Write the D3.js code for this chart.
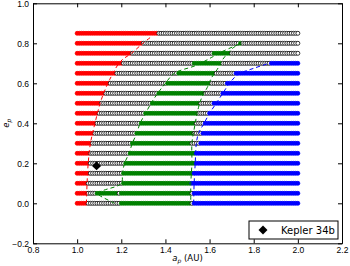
<!DOCTYPE html>
<html>
<head>
<meta charset="utf-8">
<script src="https://cdn.jsdelivr.net/npm/d3@7"></script>
<style>
  body { margin: 0; background: #fff; }
  svg { display: block; font-family: "DejaVu Sans", sans-serif; }
  .axis path { stroke: #000; }
  .axis line { stroke: #000; }
  .axis text { fill: #000; font-size: 8.5px; }
</style>
</head>
<body>
<svg id="chart" width="350" height="266"></svg>
<script>
// eccentricity of each row of the grid
var rowE = [0.00, 0.05, 0.10, 0.15, 0.20, 0.25, 0.30, 0.35, 0.40,
            0.45, 0.50, 0.55, 0.60, 0.65, 0.70, 0.75, 0.80, 0.85];

// outcome along each row: [class, first a, last a]  (r = ejected, w = unstable, g = stable, b = outer)
var rowSegs = [
  [["r",1.00,1.04],["w",1.05,1.19],["g",1.20,1.51],["w",1.52,1.52],["b",1.53,2.00]],
  [["r",1.00,1.04],["w",1.05,1.08],["g",1.09,1.18],["w",1.19,1.19],["g",1.20,1.51],["w",1.52,1.52],["b",1.53,2.00]],
  [["r",1.00,1.04],["w",1.05,1.20],["g",1.21,1.51],["b",1.52,2.00]],
  [["r",1.00,1.05],["w",1.06,1.20],["g",1.21,1.52],["b",1.53,2.00]],
  [["r",1.00,1.05],["w",1.06,1.21],["g",1.22,1.53],["b",1.54,2.00]],
  [["r",1.00,1.05],["w",1.06,1.23],["g",1.24,1.53],["b",1.54,2.00]],
  [["r",1.00,1.06],["w",1.07,1.24],["g",1.25,1.51],["w",1.52,1.55],["b",1.56,2.00]],
  [["r",1.00,1.07],["w",1.08,1.26],["g",1.27,1.52],["w",1.53,1.56],["b",1.57,2.00]],
  [["r",1.00,1.08],["w",1.09,1.28],["g",1.29,1.53],["w",1.54,1.57],["b",1.58,2.00]],
  [["r",1.00,1.09],["w",1.10,1.30],["g",1.31,1.54],["w",1.55,1.59],["b",1.60,2.00]],
  [["r",1.00,1.10],["w",1.11,1.33],["g",1.34,1.55],["w",1.56,1.61],["b",1.62,2.00]],
  [["r",1.00,1.12],["w",1.13,1.36],["g",1.37,1.57],["w",1.58,1.65],["b",1.66,2.00]],
  [["r",1.00,1.14],["w",1.15,1.40],["g",1.41,1.60],["w",1.61,1.67],["b",1.68,2.00]],
  [["r",1.00,1.17],["w",1.18,1.45],["g",1.46,1.62],["w",1.63,1.71],["b",1.72,2.00]],
  [["r",1.00,1.20],["w",1.21,1.52],["g",1.53,1.65],["w",1.66,1.87],["b",1.88,2.00]],
  [["r",1.00,1.24],["w",1.25,1.61],["g",1.62,1.69],["w",1.70,2.00]],
  [["r",1.00,1.29],["w",1.30,1.73],["g",1.74,1.74],["w",1.75,2.00]],
  [["r",1.00,1.36],["w",1.37,2.00]]
];
var aStep = 0.01;

// dashed boundary curves, [a, e]
var redCurve = [[1.042,0.0],[1.045,0.1],[1.05,0.2],[1.06,0.3],[1.07,0.35],[1.085,0.42],
                [1.11,0.52],[1.148,0.62],[1.197,0.71],[1.246,0.75],[1.298,0.80],[1.336,0.833]];
var greenCurve = [[1.17,0.0],[1.10,0.04],[1.09,0.05],[1.12,0.065],[1.20,0.1],[1.205,0.15],
                  [1.215,0.2],[1.235,0.25],[1.25,0.3],[1.27,0.35],[1.285,0.4],[1.31,0.45],
                  [1.335,0.5],[1.365,0.55],[1.40,0.6],[1.44,0.65],[1.54,0.69],[1.61,0.73],
                  [1.66,0.76],[1.745,0.80],[1.71,0.78],[1.66,0.72],[1.635,0.67],[1.61,0.63],
                  [1.59,0.58],[1.565,0.53],[1.55,0.48],[1.54,0.43],[1.53,0.37],[1.52,0.3],
                  [1.52,0.2],[1.515,0.1],[1.515,0.0]];
var blueCurve = [[1.528,0.0],[1.53,0.1],[1.535,0.2],[1.54,0.3],[1.55,0.35],[1.575,0.4],
                 [1.60,0.45],[1.63,0.5],[1.66,0.55],[1.69,0.6],[1.73,0.645],[1.80,0.675],[1.87,0.70]];

var kepler = {a: 1.088, e: 0.187, label: "Kepler 34b"};

var xTicks = [0.8, 1.0, 1.2, 1.4, 1.6, 1.8, 2.0, 2.2];
var yTicks = [-0.2, 0.0, 0.2, 0.4, 0.6, 0.8, 1.0];

var colors = {r: "#ff0000", w: "#ffffff", g: "#008000", b: "#0000ff"};

var x = d3.scaleLinear().domain([0.8, 2.2]).range([33, 342]),
    y = d3.scaleLinear().domain([-0.2, 1.0]).range([243.3, 3.3]);

var svg = d3.select("#chart");

// flatten segments into grid points
var pts = [];
rowSegs.forEach(function(segs, i) {
  segs.forEach(function(s) {
    var n = Math.round((s[2] - s[1]) / aStep);
    for (var k = 0; k <= n; k++) pts.push({a: s[1] + k * aStep, e: rowE[i], c: s[0]});
  });
});

svg.selectAll(".pt")
    .data(pts)
  .enter().append("circle")
    .attr("class", "pt")
    .attr("cx", function(d) { return x(d.a); })
    .attr("cy", function(d) { return y(d.e); })
    .attr("r", 2)
    .style("fill", function(d) { return colors[d.c]; })
    .style("stroke", function(d) { return d.c == "w" ? "#000" : colors[d.c]; })
    .style("stroke-width", 0.8);

var line = d3.line()
    .x(function(d) { return x(d[0]); })
    .y(function(d) { return y(d[1]); })
    .curve(d3.curveCatmullRom);

[[redCurve, colors.r], [greenCurve, colors.g], [blueCurve, colors.b]].forEach(function(c) {
  svg.append("path")
      .datum(c[0])
      .attr("d", line)
      .style("fill", "none")
      .style("stroke", c[1])
      .style("stroke-width", 1)
      .style("stroke-dasharray", "4,3");
});

// Kepler 34b
svg.append("path")
    .attr("d", d3.symbol().type(d3.symbolSquare).size(40))
    .attr("transform", "translate(" + x(kepler.a) + "," + y(kepler.e) + ") rotate(45)")
    .style("fill", "#000");

// axes, ticks inward on all four sides
var fmt = function(d) { return d3.format(".1f")(d).replace("-", "\u2212"); };
svg.append("g").attr("class", "axis")
    .attr("transform", "translate(0,243.3)")
    .call(d3.axisBottom(x).tickValues(xTicks).tickFormat(fmt).tickSizeInner(-4).tickSizeOuter(0).tickPadding(4));
svg.append("g").attr("class", "axis")
    .attr("transform", "translate(0,3.3)")
    .call(d3.axisTop(x).tickValues(xTicks).tickFormat("").tickSizeInner(-4).tickSizeOuter(0));
svg.append("g").attr("class", "axis")
    .attr("transform", "translate(33,0)")
    .call(d3.axisLeft(y).tickValues(yTicks).tickFormat(fmt).tickSizeInner(-4).tickSizeOuter(0).tickPadding(4));
svg.append("g").attr("class", "axis")
    .attr("transform", "translate(342,0)")
    .call(d3.axisRight(y).tickValues(yTicks).tickFormat("").tickSizeInner(-4).tickSizeOuter(0));

// axis labels
var xl = svg.append("text")
    .attr("x", 187.5).attr("y", 261)
    .attr("text-anchor", "middle")
    .style("font-size", "8.5px");
xl.append("tspan").style("font-style", "italic").text("a");
xl.append("tspan").attr("dy", 2).style("font-size", "6px").style("font-style", "italic").text("p");
xl.append("tspan").attr("dy", -2).text(" (AU)");

var yl = svg.append("text")
    .attr("transform", "translate(9,123.3) rotate(-90)")
    .attr("text-anchor", "middle")
    .style("font-size", "8.5px");
yl.append("tspan").style("font-style", "italic").text("e");
yl.append("tspan").attr("dy", 2).style("font-size", "6px").style("font-style", "italic").text("p");

// legend
var lg = svg.append("g").attr("transform", "translate(249,221)");
lg.append("rect")
    .attr("width", 89).attr("height", 18)
    .style("fill", "#fff").style("stroke", "#000").style("stroke-width", 1);
lg.append("path")
    .attr("d", d3.symbol().type(d3.symbolSquare).size(40))
    .attr("transform", "translate(14,9) rotate(45)")
    .style("fill", "#000");
lg.append("text")
    .attr("x", 32).attr("y", 12.5)
    .style("font-size", "10px")
    .text(kepler.label);
</script>
</body>
</html>
